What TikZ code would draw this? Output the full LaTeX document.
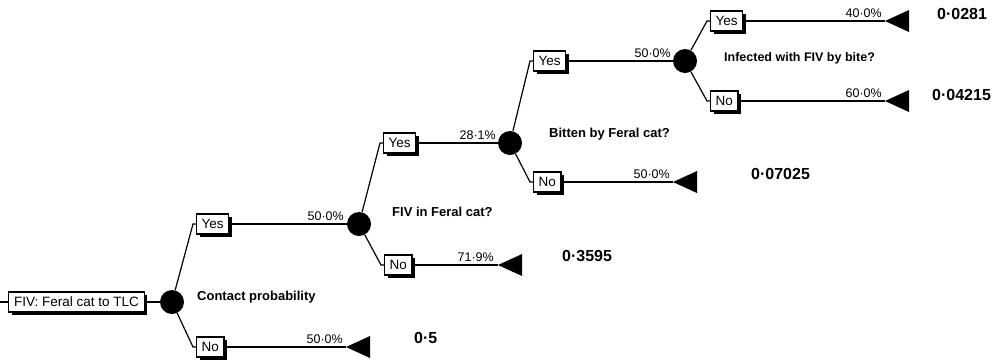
\documentclass[tikz,border=0pt]{standalone}
\usepackage{fontspec}
\setmainfont{Liberation Sans}
\usetikzlibrary{shadows}

\tikzset{
  branch/.style={draw, fill=white, line width=1.4pt, inner xsep=5pt, inner ysep=0pt,
    minimum height=20pt, anchor=west, font=\fontsize{13.5}{13.5}\selectfont,
    drop shadow={shadow xshift=3pt, shadow yshift=-3pt, fill=black, opacity=1}},
  chance/.style={circle, fill=black, minimum size=24pt, inner sep=0pt},
  prob/.style={anchor=south east, inner sep=1pt, font=\fontsize{12.5}{12.5}\selectfont},
  question/.style={anchor=west, inner sep=0pt, font=\fontsize{13}{13}\selectfont\bfseries},
  payoff/.style={anchor=west, inner sep=0pt, font=\fontsize{16}{16}\selectfont\bfseries},
  edge/.style={line width=1.2pt},
  payofftri/.pic={\fill (0,0) -- (24,-11) -- (24,11) -- cycle;}
}

\begin{document}
\begin{tikzpicture}[x=1pt, y=-1pt]
\useasboundingbox (0,0) rectangle (998,360);

% root of the tree
\coordinate (start) at (0,302);
\node[branch, inner xsep=5.5pt] (root) at (8,302) {FIV: Feral cat to TLC};
\node[chance] (c1) at (172,302) {};
\draw[edge] (start) -- (root.west);
\draw[edge] (root.east) -- (c1);
\node[question] (q1) at (197,297) {Contact probability};

% level 1
\node[branch] (y1) at (196,224) {Yes};
\node[branch] (n1) at (196,347) {No};
\draw[edge] (c1) -- ([xshift=-3pt]y1.west) -- (y1.west);
\draw[edge] (c1) -- ([xshift=-3pt]n1.west) -- (n1.west);
\node[chance] (c2) at (359,224) {};
\draw[edge] (y1.east) -- (c2);
\node[prob] at (345,222) {50·0\%};
\coordinate (t1) at (346,347);
\draw[edge] (n1.east) -- (t1);
\pic at (t1) {payofftri};
\node[prob] at (344,345) {50·0\%};
\node[payoff] (v1) at (414,338) {0·5};
\node[question] (q2) at (392,212) {FIV in Feral cat?};

% level 2
\node[branch] (y2) at (383,143) {Yes};
\node[branch] (n2) at (384,265) {No};
\draw[edge] (c2) -- ([xshift=-3pt]y2.west) -- (y2.west);
\draw[edge] (c2) -- ([xshift=-3pt]n2.west) -- (n2.west);
\node[chance] (c3) at (510,143) {};
\draw[edge] (y2.east) -- (c3);
\node[prob] at (497,141) {28·1\%};
\coordinate (t2) at (498,265);
\draw[edge] (n2.east) -- (t2);
\pic at (t2) {payofftri};
\node[prob] at (495,263) {71·9\%};
\node[payoff] (v2) at (562,256) {0·3595};
\node[question] (q3) at (549,134) {Bitten by Feral cat?};

% level 3
\node[branch] (y3) at (533,61) {Yes};
\node[branch] (n3) at (533,182) {No};
\draw[edge] (c3) -- ([xshift=-3pt]y3.west) -- (y3.west);
\draw[edge] (c3) -- ([xshift=-3pt]n3.west) -- (n3.west);
\node[chance] (c4) at (685,61) {};
\draw[edge] (y3.east) -- (c4);
\node[prob] at (672,59) {50·0\%};
\coordinate (t3) at (673,182);
\draw[edge] (n3.east) -- (t3);
\pic at (t3) {payofftri};
\node[prob] at (671,180) {50·0\%};
\node[payoff] (v3) at (751,174) {0·07025};
\node[question, font=\fontsize{12.5}{12.5}\selectfont\bfseries] (q4) at (724,58) {Infected with FIV by bite?};

% level 4
\node[branch] (y4) at (710,21) {Yes};
\node[branch] (n4) at (710,101) {No};
\draw[edge] (c4) -- ([xshift=-3pt]y4.west) -- (y4.west);
\draw[edge] (c4) -- ([xshift=-3pt]n4.west) -- (n4.west);
\coordinate (t4) at (885,21);
\draw[edge] (y4.east) -- (t4);
\pic at (t4) {payofftri};
\node[prob] at (883,19) {40·0\%};
\node[payoff] (v4) at (937,14) {0·0281};
\coordinate (t5) at (885,101);
\draw[edge] (n4.east) -- (t5);
\pic at (t5) {payofftri};
\node[prob] at (883,99) {60·0\%};
\node[payoff] (v5) at (932,95) {0·04215};
\end{tikzpicture}
\end{document}
